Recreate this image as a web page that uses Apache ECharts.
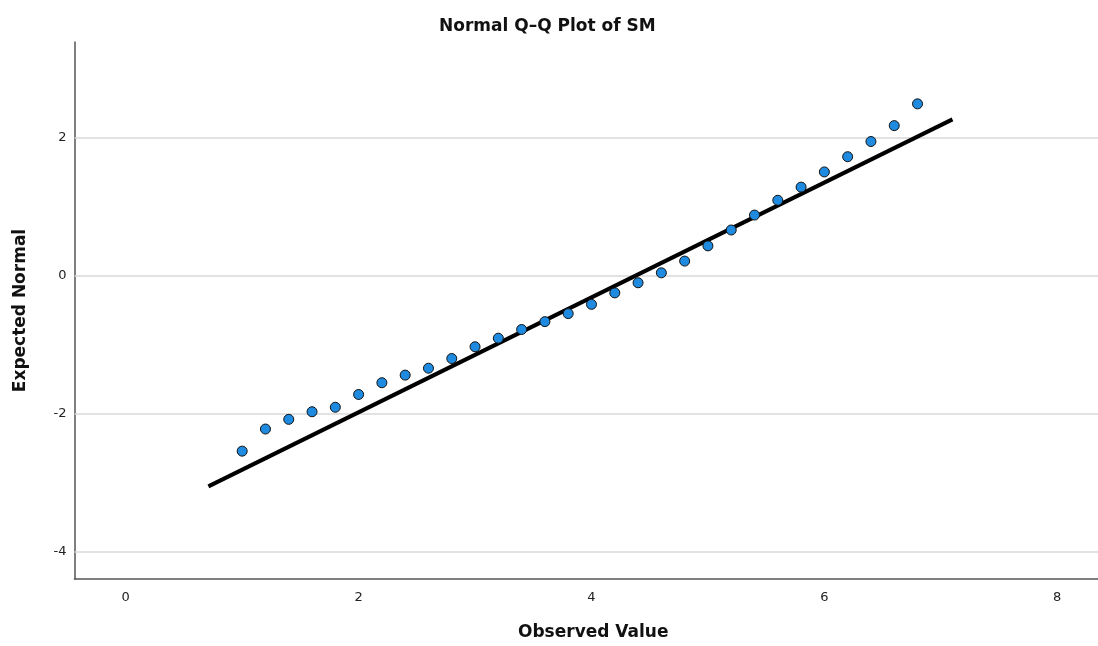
<!DOCTYPE html>
<html>
<head>
<meta charset="utf-8">
<script src="https://cdn.jsdelivr.net/npm/echarts@6/dist/echarts.min.js"></script>
<style>html,body{margin:0;padding:0;background:#fff;}#chart{width:1098px;height:646px;}</style>
</head>
<body>
<div id="chart"></div>
<script>
var observed = [1.0,1.2,1.4,1.6,1.8,2.0,2.2,2.4,2.6,2.8,3.0,3.2,3.4,3.6,3.8,4.0,4.2,4.4,4.6,4.8,5.0,5.2,5.4,5.6,5.8,6.0,6.2,6.4,6.6,6.8];
var expected = [-2.54,-2.22,-2.08,-1.97,-1.905,-1.72,-1.55,-1.44,-1.34,-1.20,-1.03,-0.906,-0.78,-0.666,-0.55,-0.416,-0.25,-0.104,0.04,0.21,0.43,0.66,0.876,1.09,1.28,1.50,1.72,1.94,2.17,2.485];
var fitLineX = [0.71, 7.10];
var fitLineY = [-3.05, 2.26];
var xTicks = [0, 2, 4, 6, 8];
var yTicks = [-4, -2, 0, 2];

var FONT = 'DejaVu Sans';
var points = observed.map(function (x, i) { return [x, expected[i]]; });
var lineData = fitLineX.map(function (x, i) { return [x, fitLineY[i]]; });

var chart = echarts.init(document.getElementById('chart'));
chart.setOption({
  animation: false,
  backgroundColor: '#ffffff',
  title: {
    text: 'Normal Q\u2013Q Plot of SM',
    left: 434, top: 13,
    textStyle: { fontFamily: FONT, fontWeight: 'bold', fontSize: 17, color: '#111' }
  },
  grid: { left: 74.5, right: 0, top: 42, bottom: 64, containLabel: false },
  xAxis: {
    type: 'value', min: -0.44, max: 8.35,
    name: 'Observed Value', nameLocation: 'middle', nameGap: 45,
    nameTextStyle: { fontFamily: FONT, fontWeight: 'bold', fontSize: 17, color: '#111', padding: [0, 0, 0, 14] },
    axisLine: { show: true, onZero: false, lineStyle: { color: '#555', width: 1.5 } },
    axisTick: { show: false },
    splitLine: { show: false },
    axisLabel: { customValues: xTicks, margin: 12, fontFamily: FONT, fontSize: 13, color: '#222' }
  },
  yAxis: {
    type: 'value', min: -4.39, max: 3.38,
    name: 'Expected Normal', nameLocation: 'middle', nameGap: 45, nameRotate: 90,
    nameTextStyle: { fontFamily: FONT, fontWeight: 'bold', fontSize: 17, color: '#111' },
    axisLine: { show: true, onZero: false, lineStyle: { color: '#555', width: 1.5 } },
    axisTick: { show: false },
    splitLine: { show: false },
    axisLabel: { customValues: yTicks, margin: 8, fontFamily: FONT, fontSize: 13, color: '#222' }
  },
  series: [
    {
      type: 'line', data: lineData, symbol: 'none', silent: true,
      lineStyle: { color: '#000', width: 4 }, z: 3,
      markLine: {
        silent: true, symbol: 'none', label: { show: false },
        lineStyle: { color: '#d8d8d8', width: 1.5, type: 'solid' },
        data: yTicks.map(function (v) { return { yAxis: v }; }),
        z: 1
      }
    },
    {
      type: 'scatter', data: points, symbol: 'circle', symbolSize: 10, z: 4,
      itemStyle: { color: '#1f8be0', borderColor: '#111', borderWidth: 1, opacity: 1 }
    }
  ]
});
</script>
</body>
</html>
